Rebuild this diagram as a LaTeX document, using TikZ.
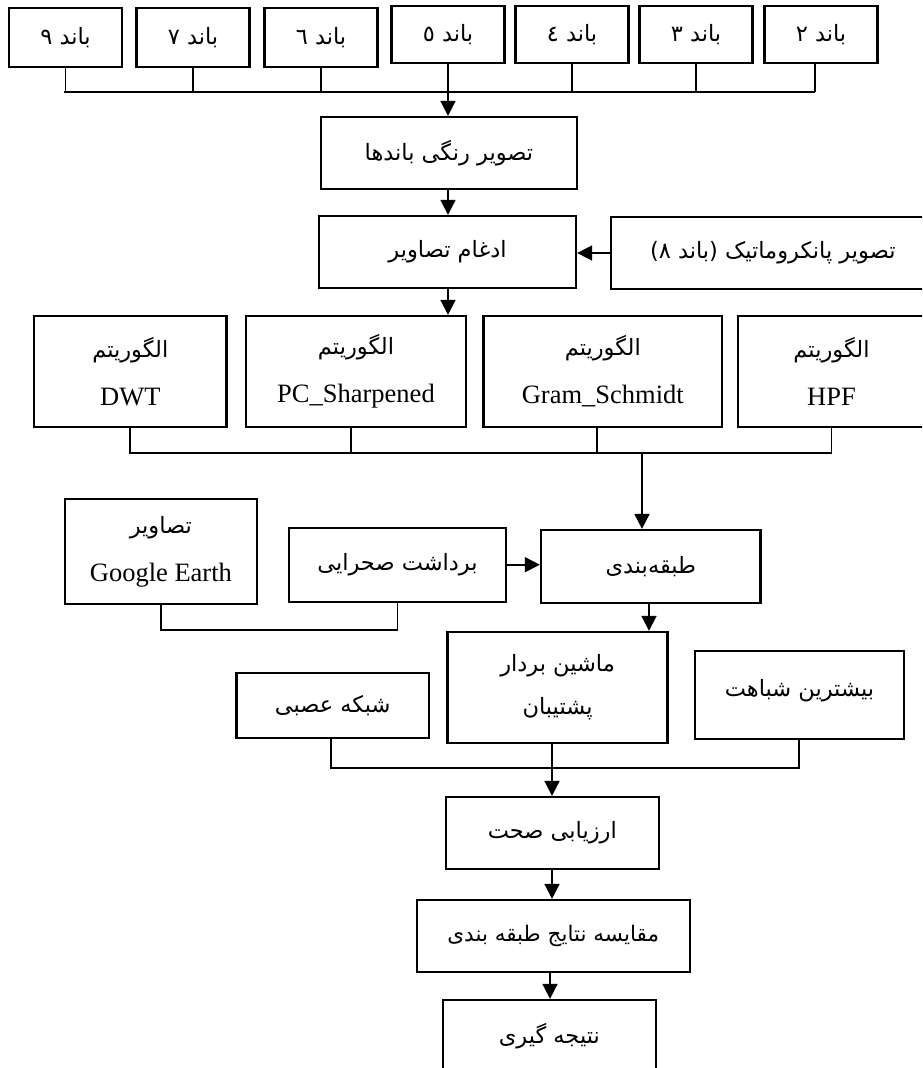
\documentclass[tikz,border=0pt]{standalone}
\usepackage{fontspec}
\setmainfont{Liberation Serif}
\newfontfamily\arfont[Script=Arabic]{DejaVu Sans}
\TeXXeTstate=1
\usetikzlibrary{arrows.meta}
\newcommand\fa[1]{{\arfont\fontsize{22.5}{26}\selectfont\beginR #1\endR}}
\newcommand\fas[1]{{\arfont\fontsize{21.5}{26}\selectfont\beginR #1\endR}}
\begin{document}
\begin{tikzpicture}[x=1pt,y=-1pt,
  box/.style={draw, line width=2.3pt, inner sep=0pt, align=center, font=\fontsize{26.5}{48}\selectfont},
  ln/.style={line width=1.8pt},
  arr/.style={ln, -{Triangle[length=15pt,width=15pt]}}]
\useasboundingbox (0,0) rectangle (922,1068);
\fill[white] (0,0) rectangle (922,1068);
\clip (0,0) rectangle (922,1068);
% band boxes
\node[box, minimum width=113pt, minimum height=59pt] (b9) at (65.5,37.5) {\fa{باند ٩}};
\node[box, minimum width=113pt, minimum height=59pt] (b7) at (193,37.5) {\fa{باند ٧}};
\node[box, minimum width=113pt, minimum height=59pt] (b6) at (321,37.5) {\fa{باند ٦}};
\node[box, minimum width=113pt, minimum height=57pt] (b5) at (448,34.5) {\fa{باند ٥}};
\node[box, minimum width=113pt, minimum height=57pt] (b4) at (572,34.5) {\fa{باند ٤}};
\node[box, minimum width=113pt, minimum height=57pt] (b3) at (696,34.5) {\fa{باند ٣}};
\node[box, minimum width=113pt, minimum height=57pt] (b2) at (821,34.5) {\fa{باند ٢}};
\coordinate (busL) at (64,92);
\coordinate (busR) at (815,92);
\coordinate (busM) at (448,92);
\draw[ln] (busL) -- (busR);
\foreach \n in {b9,b7,b6,b5,b4,b3} \draw[ln] (\n.south) -- (\n.south |- busM);
\draw[ln] (b2.south -| busR) -- (busR);
% colour image & merge
\node[box, minimum width=256pt, minimum height=72pt] (color) at (449,153) {\fa{تصویر رنگی باندها}};
\node[box, minimum width=257pt, minimum height=72pt] (merge) at (447.5,252) {\fa{ادغام تصاویر}};
\node[box, minimum width=324pt, minimum height=72pt] (pan) at (772.8,253) {\fa{تصویر پانکروماتیک (باند ٨)}};
\draw[arr] (busM) -- (busM |- color.north);
\draw[arr] (color.south -| busM) -- (busM |- merge.north);
\draw[arr] (pan.west) -- (pan.west -| merge.east);
% algorithms
\node[box, minimum width=192.5pt, minimum height=111pt] (dwt) at (130.3,371.5) {\fa{الگوریتم}\\DWT};
\node[box, minimum width=220.5pt, minimum height=111pt] (pcs) at (356,371.5) {\fa{الگوریتم}\\PC\_Sharpened};
\node[box, minimum width=238.5pt, minimum height=111pt] (gs) at (602.8,371.5) {\fa{الگوریتم}\\Gram\_Schmidt};
\node[box, minimum width=187pt, minimum height=111pt] (hpf) at (831.5,371.5) {\fa{الگوریتم}\\HPF};
\draw[arr] (merge.south -| busM) -- (busM |- pcs.north);
\coordinate (abus) at (642,453);
\coordinate (xpc) at (351,453);
\coordinate (xgs) at (597,453);
\draw[ln] (dwt.south) -- (dwt.south |- abus) -- (hpf.south |- abus) -- (hpf.south);
\draw[ln] (pcs.south -| xpc) -- (xpc);
\draw[ln] (gs.south -| xgs) -- (xgs);
% classification
\node[box, minimum width=219.6pt, minimum height=72.7pt] (cls) at (650.8,566.4) {\fa{طبقه‌بندی}};
\node[box, minimum width=192.3pt, minimum height=105pt] (ge) at (160.9,551.5) {\fa{تصاویر}\\Google Earth};
\node[box, minimum width=217pt, minimum height=74pt] (field) at (397.5,564.7) {\fa{برداشت صحرایی}};
\draw[arr] (abus) -- (abus |- cls.north);
\draw[arr] (field.east) -- (field.east -| cls.west);
\draw[ln] (ge.south) -- ++(0,25) -| (field.south);
% classifiers
\node[box, minimum width=220pt, minimum height=110.7pt] (svm) at (557.6,687.3) {\fa{ماشین بردار}\\[-5pt]\fa{پشتیبان}};
\node[box, minimum width=209pt, minimum height=87.7pt] (ml) at (799.5,694.8) {\raisebox{14pt}{\fa{بیشترین شباهت}}};
\node[box, minimum width=192.5pt, minimum height=65.3pt] (nn) at (332.7,705.3) {\fa{شبکه عصبی}};
\coordinate (xcls) at (649,600);
\draw[arr] (cls.south -| xcls) -- (xcls |- svm.north);
\coordinate (cbus) at (552,768);
\coordinate (xnn) at (331,768);
\coordinate (xml) at (799,768);
\draw[ln] (nn.south -| xnn) -- (xnn) -- (xml) -- (ml.south -| xml);
\draw[ln] (svm.south -| cbus) -- (cbus);
% evaluation chain
\node[box, minimum width=213.3pt, minimum height=72pt] (acc) at (552.3,833) {\fa{ارزیابی صحت}};
\node[box, minimum width=273pt, minimum height=72pt] (cmp) at (553.2,936) {\fas{مقایسه نتایج طبقه بندی}};
\node[box, minimum width=213.3pt, minimum height=72pt] (conc) at (549.3,1036) {\fa{نتیجه گیری}};
\coordinate (xconc) at (550,980);
\draw[arr] (cbus) -- (cbus |- acc.north);
\draw[arr] (acc.south -| cbus) -- (cbus |- cmp.north);
\draw[arr] (cmp.south -| xconc) -- (xconc |- conc.north);
\end{tikzpicture}
\end{document}
